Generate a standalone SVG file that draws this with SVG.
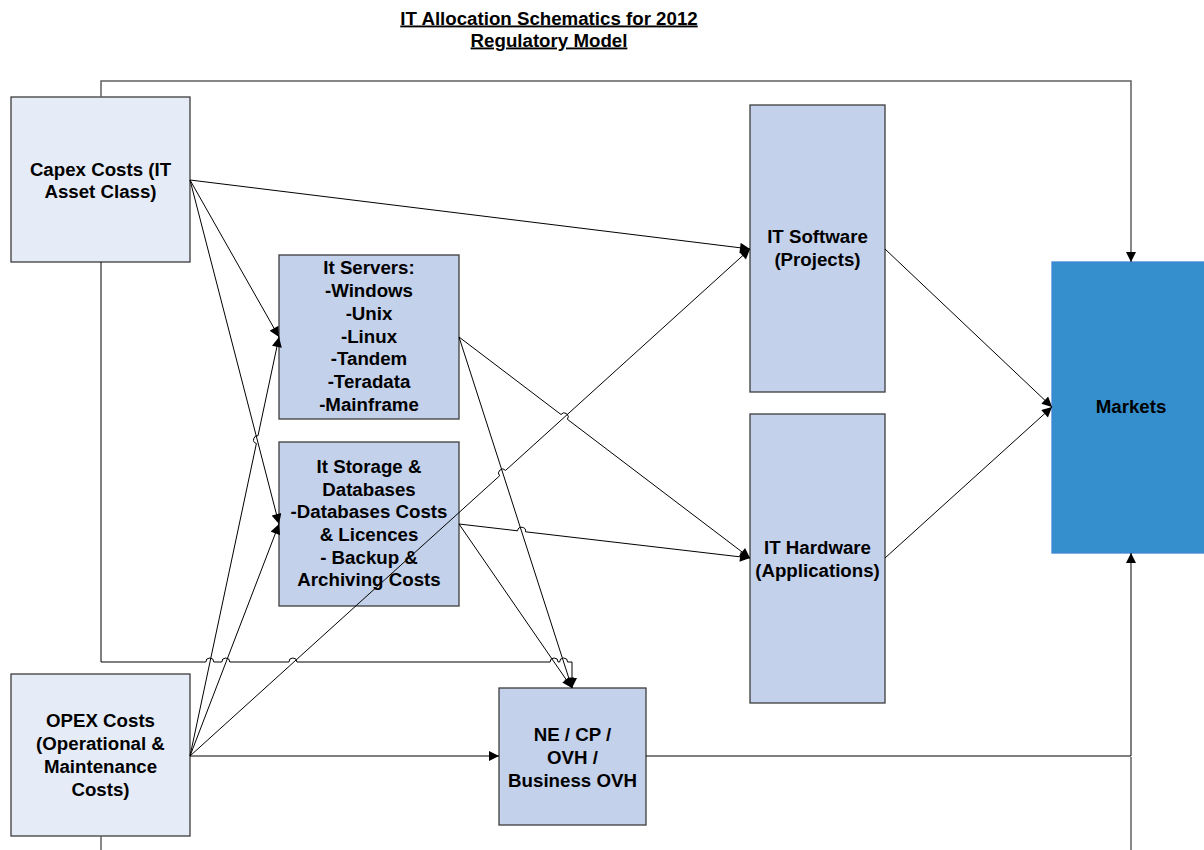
<svg xmlns="http://www.w3.org/2000/svg" width="1204" height="850" viewBox="0 0 1204 850">
<defs>
<style>
.t{font-family:"Liberation Sans",Arial,sans-serif;font-weight:bold;font-size:18.7px;fill:#000;text-anchor:middle}
.title{text-decoration:underline}
.light{fill:#e6ecf7;stroke:#3c3c3c;stroke-width:1.3}
.mid{fill:#c3d1eb;stroke:#3c3c3c;stroke-width:1.3}
.mk{fill:#348fcc;stroke:#3f84d6;stroke-width:1.3}
.c{fill:none;stroke:#000;stroke-width:1}
.g{fill:none;stroke:#606060;stroke-width:1.5}
</style>
<marker id="arr" viewBox="0 0 10 10" refX="10" refY="5" markerWidth="11" markerHeight="10" markerUnits="userSpaceOnUse" orient="auto">
<path d="M0,0 L10,5 L0,10 z" fill="#000"/>
</marker>
</defs>
<rect width="1204" height="850" fill="#fff"/>
<g id="title">
<text class="t title" x="549" y="24.5">IT Allocation Schematics for 2012</text>
<text class="t title" x="549" y="46.5">Regulatory Model</text>
</g>
<g id="capex">
<rect class="light" x="11" y="97" width="179" height="165"/>
<text class="t" x="100.5" y="176">Capex Costs (IT</text>
<text class="t" x="100.5" y="198">Asset Class)</text>
</g>
<g id="opex">
<rect class="light" x="11" y="674" width="179" height="162"/>
<text class="t" x="100.5" y="727">OPEX Costs</text>
<text class="t" x="100.5" y="750">(Operational &amp;</text>
<text class="t" x="100.5" y="773">Maintenance</text>
<text class="t" x="100.5" y="796">Costs)</text>
</g>
<g id="servers">
<rect class="mid" x="279" y="255" width="180" height="164"/>
<text class="t" x="369" y="274">It Servers:</text>
<text class="t" x="369" y="297">-Windows</text>
<text class="t" x="369" y="320">-Unix</text>
<text class="t" x="369" y="342.5">-Linux</text>
<text class="t" x="369" y="365">-Tandem</text>
<text class="t" x="369" y="388">-Teradata</text>
<text class="t" x="369" y="411">-Mainframe</text>
</g>
<g id="storage">
<rect class="mid" x="279" y="442" width="180" height="164"/>
<text class="t" x="369" y="473">It Storage &amp;</text>
<text class="t" x="369" y="495.5">Databases</text>
<text class="t" x="369" y="518">-Databases Costs</text>
<text class="t" x="369" y="541">&amp; Licences</text>
<text class="t" x="369" y="563.5">- Backup &amp;</text>
<text class="t" x="369" y="586">Archiving Costs</text>
</g>
<g id="software">
<rect class="mid" x="750" y="105" width="135" height="287"/>
<text class="t" x="817.5" y="243">IT Software</text>
<text class="t" x="817.5" y="266">(Projects)</text>
</g>
<g id="hardware">
<rect class="mid" x="750" y="414" width="135" height="289"/>
<text class="t" x="817.5" y="554">IT Hardware</text>
<text class="t" x="817.5" y="576.5">(Applications)</text>
</g>
<g id="ne">
<rect class="mid" x="499" y="688" width="147" height="137"/>
<text class="t" x="572.5" y="741">NE / CP /</text>
<text class="t" x="572.5" y="764">OVH /</text>
<text class="t" x="572.5" y="786.5">Business OVH</text>
</g>
<g id="markets">
<rect class="mk" x="1052" y="262" width="160" height="291"/>
<text class="t" x="1131" y="413">Markets</text>
</g>
<g id="connectors">
<path class="g" d="M101,97 V81 H1131 V262" marker-end="url(#arr)"/>
<path class="c" stroke="#222" d="M101,262 V662 H205.8 A4,4 0 0 1 213.8,662 H221.8 A4,4 0 0 1 229.8,662 H288.9 A4,4 0 0 1 296.9,662 H550.1 A4,4 0 0 1 558.1,662 H559.6 A4,4 0 0 1 567.6,662 H572 V688" marker-end="url(#arr)"/>
<path class="c" d="M190,180 L750,249" marker-end="url(#arr)"/>
<path class="c" d="M190,180 L279,337" marker-end="url(#arr)"/>
<path class="c" d="M190,180 L279,524" marker-end="url(#arr)"/>
<path class="c" d="M190,756 L256.4,443.5 A4,4 0 0 1 258,435.7 L279,337" marker-end="url(#arr)"/>
<path class="c" d="M190,756 L279,524" marker-end="url(#arr)"/>
<path class="c" d="M190,756 L499.6,475.8 A4,4 0 0 1 505.6,470.4 L750,249" marker-end="url(#arr)"/>
<path class="c" d="M190,756 L499,756" marker-end="url(#arr)"/>
<path class="c" d="M459,337 L561,414.5 A4,4 0 0 1 567.4,419.3 L750,558" marker-end="url(#arr)"/>
<path class="c" d="M459,337 L572,688" marker-end="url(#arr)"/>
<path class="c" d="M459,524 L517.6,530.8 A4,4 0 0 1 525.6,531.8 L750,558" marker-end="url(#arr)"/>
<path class="c" d="M459,524 L572,688" marker-end="url(#arr)"/>
<path class="c" d="M885,249 L1052,407" marker-end="url(#arr)"/>
<path class="c" d="M885,558 L1052,407" marker-end="url(#arr)"/>
<path class="c" stroke="#222" d="M646,756 H1131 V553" marker-end="url(#arr)"/>
<path class="g" d="M101,836 V850"/>
<path class="g" d="M1131,850 V757"/>
</g>
</svg>
